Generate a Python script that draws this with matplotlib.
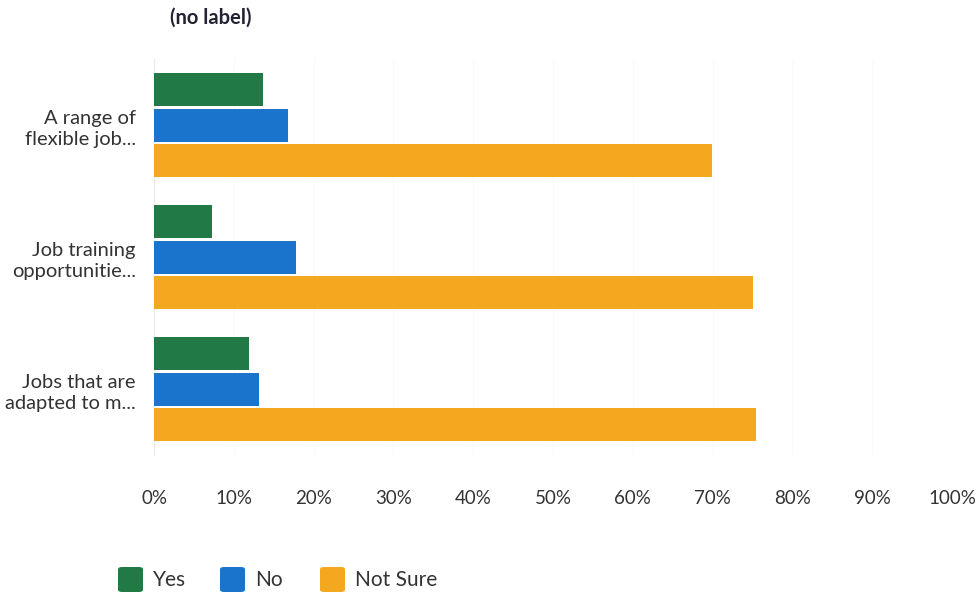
import matplotlib
matplotlib.use("Agg")
import matplotlib.pyplot as plt
import numpy as np
from matplotlib.patches import FancyBboxPatch

categories = ["A range of\nflexible job...", "Job training\nopportunitie...", "Jobs that are\nadapted to m..."]
series_names = ["Yes", "No", "Not Sure"]
yes_vals = [13.6, 7.3, 11.9]
no_vals = [16.8, 17.8, 13.1]
notsure_vals = [69.9, 75.0, 75.5]
tick_vals = [0, 10, 20, 30, 40, 50, 60, 70, 80, 90, 100]
tick_labels = [f"{v}%" for v in tick_vals]
colors = ["#217a45", "#1b74cb", "#f4a81f"]

plt.rcParams['font.family'] = ['Lato', 'DejaVu Sans']

fig = plt.figure(figsize=(9.77, 5.94), dpi=100)
ax = fig.add_axes([154/977, 1-455/594, (952-154)/977, (455-59)/594])

y = np.arange(len(categories))
offsets = [-0.27, 0.0, 0.27]
for vals, off, col, name in zip([yes_vals, no_vals, notsure_vals], offsets, colors, series_names):
    ax.barh(y + off, vals, height=0.25, color=col, label=name, zorder=3)

ax.set_xlim(0, 100)
ax.set_ylim(len(categories) - 0.5, -0.5)
ax.set_xticks(tick_vals)
ax.set_xticklabels(tick_labels, fontsize=13.5, color="#333333")
ax.set_yticks(y)
ax.set_yticklabels(categories, fontsize=14.5, color="#333333", ha="right", linespacing=1.3)
ax.tick_params(axis="both", length=0)
ax.tick_params(axis="x", pad=25)
ax.tick_params(axis="y", pad=13)
for s in ["top", "right", "bottom"]:
    ax.spines[s].set_visible(False)
ax.spines["left"].set_color("#ececec")
ax.spines["left"].set_linewidth(1)
ax.grid(axis="x", color="#fafafa", linewidth=0.8, zorder=0)

fig.text(170/977, 1-18/594, "(no label)", fontsize=14.5, fontweight="bold", color="#222233", va="center", ha="left")

# legend
leg_items = [(118, "Yes"), (220, "No"), (320, "Not Sure")]
for (x0, name), col in zip(leg_items, colors):
    p = FancyBboxPatch((x0/977, 1-592/594), 25/977, 25/594, boxstyle="round,pad=0,rounding_size=0.004",
                       transform=fig.transFigure, facecolor=col, edgecolor="none")
    fig.patches.append(p)
    fig.text((x0+35)/977, 1-580/594, name, fontsize=15, color="#333333", va="center", ha="left")

fig.savefig("out.png", dpi=100, facecolor="white")
